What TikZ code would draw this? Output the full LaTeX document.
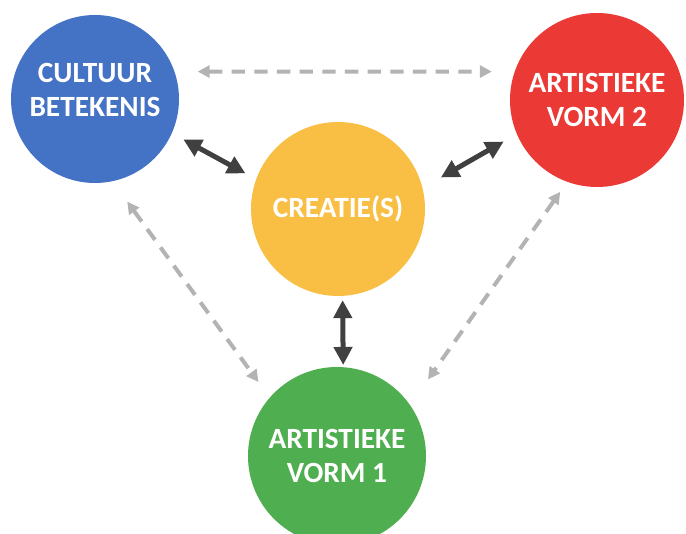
\documentclass[tikz,border=0pt]{standalone}
\usepackage{fontspec}
\setmainfont{Carlito}
\usetikzlibrary{arrows.meta}
\definecolor{cblue}{HTML}{4472C4}
\definecolor{cred}{HTML}{EB3A36}
\definecolor{cyellow}{HTML}{F9BF45}
\definecolor{cgreen}{HTML}{4FAE50}
\definecolor{cdark}{HTML}{404040}
\definecolor{cgrey}{HTML}{B3B3B3}
\begin{document}
\begin{tikzpicture}[x=0.75pt, y=-0.75pt,
  bol/.style={circle, fill=#1, text=white, inner sep=0pt, align=center,
    font=\bfseries\fontsize{22}{26}\selectfont},
  duo/.style={{Triangle[length=13.5pt,width=13.5pt]}-{Triangle[length=13.5pt,width=13.5pt]},
    line width=3.75pt, draw=cdark},
  stip/.style={{Triangle[length=9pt,width=9pt]}-{Triangle[length=9pt,width=9pt]},
    line width=3pt, draw=cgrey, dash pattern=on 10pt off 7pt}]
\useasboundingbox (0,0) rectangle (686,534);
\node[bol=cblue, minimum size=126pt] (cult) at (95,99) {CULTUUR\\BETEKENIS\\[-20pt]\strut};
\node[bol=cred, minimum size=130.5pt] (vorm2) at (597,100) {ARTISTIEKE\\VORM 2};
\node[bol=cyellow, minimum size=130.5pt] (crea) at (338,209) {CREATIE(S)};
\node[bol=cgreen, minimum size=133.5pt] (vorm1) at (337,456) {ARTISTIEKE\\VORM 1};
% naar het midden
\draw[duo, shorten <=9.75pt, shorten >=9pt] (cult.-24) -- (crea.160);
\draw[duo, shorten <=11.25pt, shorten >=15.75pt] (vorm2.-157) -- (crea.14);
\draw[duo, shorten <=3pt, shorten >=1.5pt] (crea.-87) -- (vorm1.86);
% buitenkant
\draw[stip, shorten <=17.25pt, shorten >=17pt] (cult.19) -- (vorm2.161);
\draw[stip, shorten <=18.75pt, shorten >=14.25pt] (cult.-78) -- (vorm1.139);
\draw[stip, shorten <=9pt, shorten >=23.25pt] (vorm2.-110) -- (vorm1.35);
\end{tikzpicture}
\end{document}
